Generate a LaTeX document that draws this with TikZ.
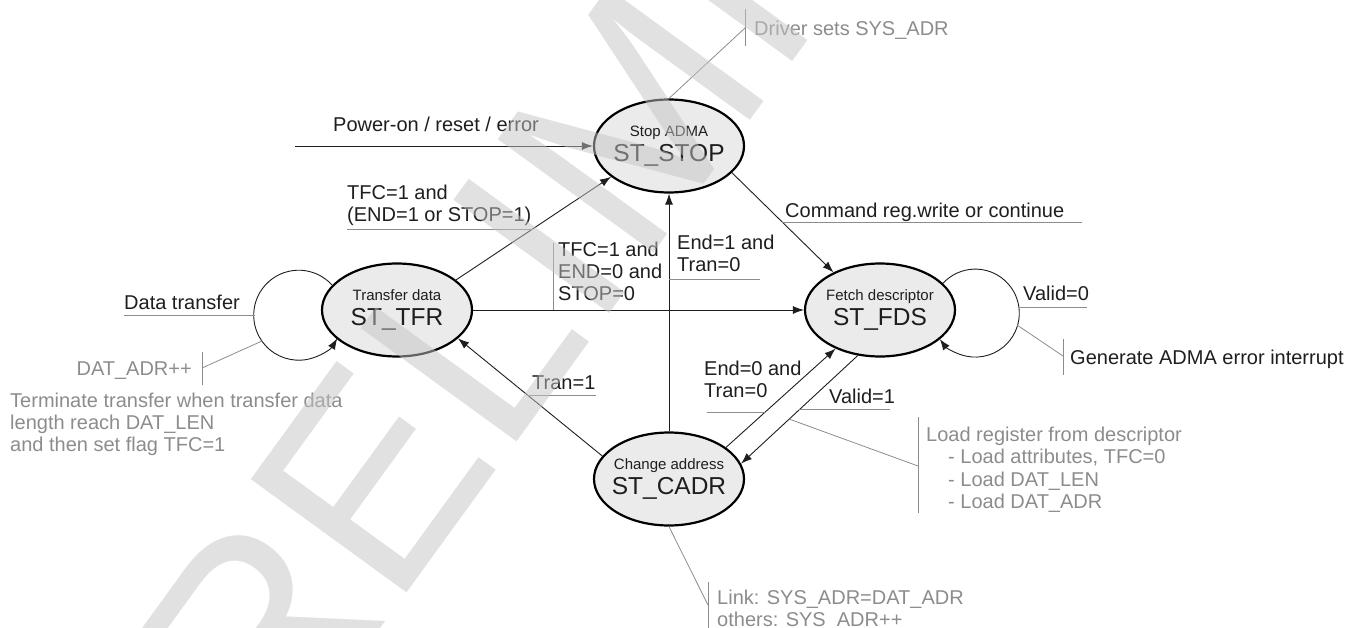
\documentclass[tikz,border=0pt]{standalone}
\usepackage{fontspec}
\setmainfont{Liberation Sans}
\usetikzlibrary{shapes.geometric,arrows.meta}
\definecolor{labc}{HTML}{1E1E1E}
\definecolor{annc}{HTML}{8C8C8C}
\definecolor{fillg}{HTML}{EBEBEB}
\definecolor{wmc}{HTML}{C4C4C4}
\begin{document}
\begin{tikzpicture}[x=1pt,y=1pt,
  state/.style={ellipse, draw=black, line width=2.2pt, fill=fillg, minimum width=150pt, minimum height=93pt, inner sep=0pt},
  bigt/.style={font=\fontsize{24.5}{26}\selectfont, text=labc, inner sep=0pt, anchor=base},
  smallt/.style={font=\fontsize{15}{17}\selectfont, text=labc, inner sep=0pt, anchor=base},
  lbl/.style={font=\fontsize{20}{22}\selectfont, text=labc, inner sep=0pt, anchor=base west, align=left},
  annt/.style={font=\fontsize{20}{22}\selectfont, text=annc, inner sep=0pt, anchor=base west, align=left},
  tr/.style={draw=labc, line width=0.9pt, -{Latex[length=11pt,width=8pt]}},
  ul/.style={draw=annc, line width=0.8pt},
]
\useasboundingbox (0,0) rectangle (1346,-628);

% states
\node[state] (stop) at (669,-146) {};
\node[state] (tfr)  at (397,-310) {};
\node[state] (fds)  at (880,-310) {};
\node[state] (cadr) at (669,-479) {};
\node[smallt] (stopS) at ([yshift=9.6pt]stop.center) {Stop ADMA};
\node[bigt]   (stopB) at ([yshift=-15.6pt]stop.center) {ST\_STOP};
\node[smallt] (tfrS) at ([yshift=9.6pt]tfr.center) {Transfer data};
\node[bigt]   (tfrB) at ([yshift=-15.6pt]tfr.center) {ST\_TFR};
\node[smallt] (fdsS) at ([yshift=9.6pt]fds.center) {Fetch descriptor};
\node[bigt]   (fdsB) at ([yshift=-15.6pt]fds.center) {ST\_FDS};
\node[smallt] (cadrS) at ([yshift=9.6pt]cadr.center) {Change address};
\node[bigt]   (cadrB) at ([yshift=-15.6pt]cadr.center) {ST\_CADR};

% transitions
\coordinate (pw) at (295,-146);
\draw[tr] (pw) -- (stop.west);
\draw[tr] (tfr.27) -- (stop.-152);
\draw[tr] (stop.-23) -- (fds.141);
\draw[tr] (cadr) -- (stop);
\draw[tr] (tfr) -- (fds);
\draw[tr] (cadr.161) -- (tfr.-25);
\draw[tr] (cadr.29) -- (fds.-139);
\draw[tr] (fds.-116) -- (cadr.12);
\draw[tr] (tfr.159.4) arc[start angle=42, end angle=329, radius=45];
\draw[tr] (fds.23.7) arc[start angle=137.3, end angle=-143.8, radius=44];

% labels (anchor = baseline of the last line)
\node[lbl] (lpw) at (333,-132) {Power-on / reset / error};
\node[lbl] (l1) at (347,-222) {TFC=1 and\\(END=1 or STOP=1)};
\node[lbl] (l2) at (785,-218) {Command reg.write or continue};
\node[lbl] (l3) at (677,-272) {End=1 and\\Tran=0};
\node[lbl] (l4) at (558,-301) {TFC=1 and\\END=0 and\\STOP=0};
\node[lbl] (l5) at (532,-389) {Tran=1};
\node[lbl] (l6) at (704,-397) {End=0 and\\Tran=0};
\node[lbl] (l7) at (829,-403) {Valid=1};
\node[lbl] (l8) at (1023,-300) {Valid=0};
\node[lbl] (l9) at (124,-309) {Data transfer};
\node[lbl] (l10) at (1070,-364) {Generate ADMA error interrupt};

% annotations
\node[annt, anchor=base east] (a1) at (192,-375) {DAT\_ADR++};
\node[annt] (a2) at (10,-451) {Terminate transfer when transfer data\\length reach DAT\_LEN\\and then set flag TFC=1};
\node[annt, font=\fontsize{20}{22.5}\selectfont] (a3) at (926,-508.5) {Load register from descriptor\\\hspace*{22pt}- Load attributes, TFC=0\\\hspace*{22pt}- Load DAT\_LEN\\\hspace*{22pt}- Load DAT\_ADR};
\node[annt] (a4) at (754,-36) {Driver sets SYS\_ADR};
\node[annt] (a5) at (717,-626) {Link: SYS\_ADR=DAT\_ADR\\others: SYS\_ADR++};

% underlines / leaders
\coordinate (u1a) at (347,-229);   \coordinate (u1b) at (533,-229);
\coordinate (u2a) at (782,-222);   \coordinate (u2b) at (1082,-222);
\coordinate (u3a) at (669,-279);   \coordinate (u3b) at (760,-279);
\coordinate (u4a) at (553,-243);   \coordinate (u4b) at (553,-310);
\coordinate (u5a) at (527.4,-395); \coordinate (u5b) at (596,-395);
\coordinate (u6a) at (707,-412);   \coordinate (u6b) at (764.7,-412);
\coordinate (u7a) at (799.4,-409); \coordinate (u7b) at (890,-409);
\coordinate (u8a) at (124,-315);   \coordinate (u8b) at (255,-315);
\coordinate (u9a) at (1017.6,-307);\coordinate (u9b) at (1087,-307);
\draw[ul] (u1a) -- (u1b);
\draw[ul] (u2a) -- (u2b);
\draw[ul] (u3a) -- (u3b);
\draw[ul] (u4a) -- (u4b);
\draw[ul] (u5a) -- (u5b);
\draw[ul] (u6a) -- (u6b);
\draw[ul] (u7a) -- (u7b);
\draw[ul] (u8a) -- (u8b);
\draw[ul] (u9a) -- (u9b);

\coordinate (dl) at (262,-341); \coordinate (db) at (202,-368);
\coordinate (db1) at (202,-352); \coordinate (db2) at (202,-385);
\draw[ul] (dl) -- (db); \draw[ul] (db1) -- (db2);

\coordinate (gl) at (1017,-325); \coordinate (gb) at (1063,-356);
\coordinate (gb1) at (1063,-339); \coordinate (gb2) at (1063,-375);
\draw[ul] (gl) -- (gb); \draw[ul] (gb1) -- (gb2);

\coordinate (ll) at (789,-419); \coordinate (lb) at (918,-466);
\coordinate (lb1) at (918,-417); \coordinate (lb2) at (918,-513);
\draw[ul] (ll) -- (lb); \draw[ul] (lb1) -- (lb2);

\coordinate (kb) at (708,-605);
\coordinate (kb1) at (708,-582); \coordinate (kb2) at (708,-640);
\draw[ul] (cadr.south) -- (kb); \draw[ul] (kb1) -- (kb2);

\coordinate (vb) at (745,-28);
\coordinate (vb1) at (745,-9); \coordinate (vb2) at (745,-46);
\draw[ul] (stop.north) -- (vb); \draw[ul] (vb1) -- (vb2);

% watermark
\node[rotate=54, anchor=base west, inner sep=0pt, font=\fontsize{280}{280}\selectfont, text=wmc, text opacity=0.5] (wm) at (165,-926) {PRELIMINARY};
\end{tikzpicture}
\end{document}
